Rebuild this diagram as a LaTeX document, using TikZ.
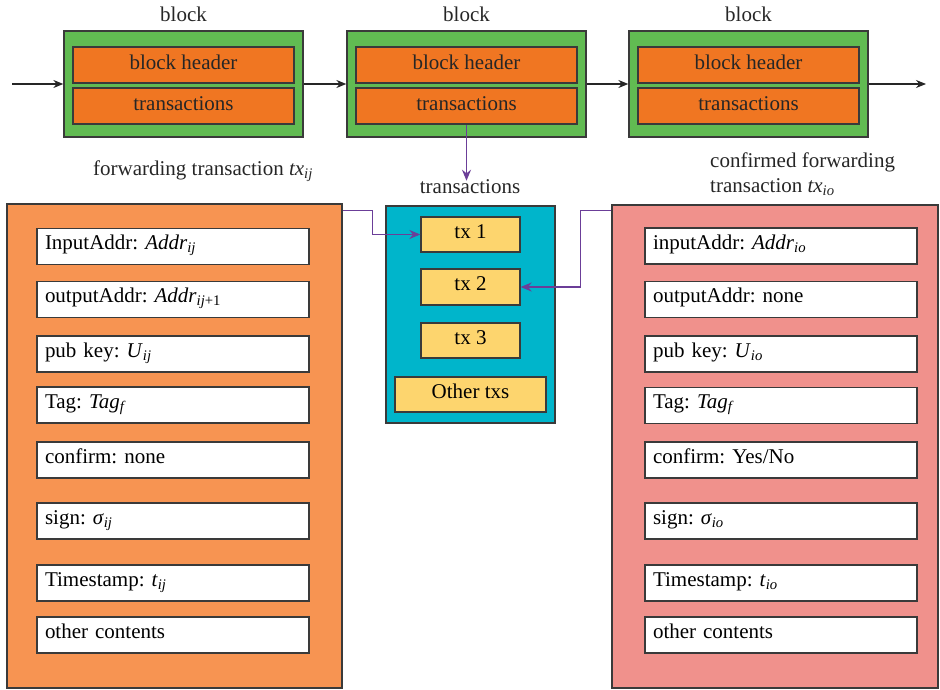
\documentclass[tikz,border=0pt]{standalone}
\usepackage{fontspec}
\setmainfont{Liberation Serif}
\usetikzlibrary{arrows.meta}
\definecolor{edge}{HTML}{3A3A3A}
\definecolor{bgreen}{HTML}{61BB52}
\definecolor{iorange}{HTML}{F07622}
\definecolor{cyanbox}{HTML}{00B5CB}
\definecolor{ytx}{HTML}{FDD56E}
\definecolor{lpanel}{HTML}{F79452}
\definecolor{rpanel}{HTML}{F0918C}
\definecolor{purp}{HTML}{6B3E98}
\newcommand{\sbi}[1]{\textsubscript{\itshape #1}}
\tikzset{
  blockbox/.style={draw=edge, fill=bgreen, line width=1.3pt, minimum width=239pt, minimum height=106pt, inner sep=0pt},
  innerbox/.style={draw=edge, fill=iorange, line width=1.3pt, minimum width=221pt, minimum height=36pt, inner sep=0pt, text height=14pt, text depth=5.5pt, text=black!85},
  txbox/.style={draw=edge, fill=ytx, line width=1.3pt, minimum height=35pt, inner sep=0pt, text height=13pt, text depth=6pt},
  itembox/.style={draw=edge, fill=white, line width=1.3pt, minimum height=36pt, text width=256pt, inner xsep=8pt, inner ysep=0pt, text height=12pt, text depth=6pt, align=left},
  panel/.style={draw=edge, line width=1.3pt, inner sep=0pt},
  blkarrow/.style={draw=black!85, line width=1.2pt, -{Stealth[length=10pt,width=8pt]}},
  parrow/.style={draw=purp, line width=1.5pt, -{Stealth[length=11pt,width=9pt]}},
  lbl/.style={inner sep=0pt, text=black!85}
}
\begin{document}
\frenchspacing
\begin{tikzpicture}[x=1pt,y=-1pt,font=\fontsize{21}{25}\selectfont]
\useasboundingbox (0,0) rectangle (940,690);
% top blocks
\node[blockbox] (b1) at (183.5,84) {};
\node[blockbox] (b2) at (466.5,84) {};
\node[blockbox] (b3) at (748.5,84) {};
\node[innerbox] (h1) at (183.5,65) {block header};
\node[innerbox] (t1) at (183.5,106) {transactions};
\node[innerbox] (h2) at (466.5,65) {block header};
\node[innerbox] (t2) at (466.5,106) {transactions};
\node[innerbox] (h3) at (748.5,65) {block header};
\node[innerbox] (t3) at (748.5,106) {transactions};
\node[lbl] (bl1) at (183.5,14) {block};
\node[lbl] (bl2) at (466.5,14) {block};
\node[lbl] (bl3) at (748.5,14) {block};
\coordinate (cin) at (12,84);
\coordinate (cout) at (926,84);
\draw[blkarrow] (cin) -- (b1.west);
\draw[blkarrow] (b1.east) -- (b2.west);
\draw[blkarrow] (b2.east) -- (b3.west);
\draw[blkarrow] (b3.east) -- (cout);
% transactions pool
\node[lbl] (txl) at (470,187) {transactions};
\draw[parrow] (t2.south) -- ([yshift=-1pt]txl.north -| t2.south);
\node[panel, fill=cyanbox, minimum width=169pt, minimum height=217pt] (pool) at (470.5,314.5) {};
\node[txbox, minimum width=99pt] (tx1) at (470.5,234.5) {tx 1};
\node[txbox, minimum width=99pt, minimum height=36pt] (tx2) at (470.5,287) {tx 2};
\node[txbox, minimum width=99pt] (tx3) at (470.5,340.5) {tx 3};
\node[txbox, minimum width=151pt] (txo) at (470.5,394.5) {Other txs};
% left panel
\node[lbl] (lt) at (203,171) {forwarding transaction \textit{tx}\sbi{ij}};
\node[panel, fill=lpanel, minimum width=335pt, minimum height=484pt] (lp) at (174.5,446) {};
\node[itembox] (l1) at (173,246.5) {InputAddr: \textit{Addr}\sbi{ij}};
\node[itembox] (l2) at (173,299.5) {outputAddr: \textit{Addr}\textsubscript{\itshape ij\upshape+1}};
\node[itembox] (l3) at (173,354) {pub key: \textit{U}\sbi{ij}};
\node[itembox] (l4) at (173,405) {Tag: \textit{Tag}\sbi{f}};
\node[itembox] (l5) at (173,460) {confirm: none};
\node[itembox] (l6) at (173,521) {sign: \textit{σ}\sbi{ij}};
\node[itembox] (l7) at (173,583) {Timestamp: \textit{t}\sbi{ij}};
\node[itembox] (l8) at (173,635) {other contents};
% right panel
\node[lbl, align=left, anchor=west] (rt) at (710,174) {confirmed forwarding\\transaction \textit{tx}\sbi{io}};
\node[panel, fill=rpanel, minimum width=326pt, minimum height=483pt] (rp) at (775,446.5) {};
\node[itembox] (r1) at (781,246) {inputAddr: \textit{Addr}\sbi{io}};
\node[itembox] (r2) at (781,299.5) {outputAddr: none};
\node[itembox] (r3) at (781,354) {pub key: \textit{U}\sbi{io}};
\node[itembox] (r4) at (781,405.5) {Tag: \textit{Tag}\sbi{f}};
\node[itembox] (r5) at (781,460) {confirm: Yes/No};
\node[itembox] (r6) at (781,521) {sign: \textit{σ}\sbi{io}};
\node[itembox] (r7) at (781,583) {Timestamp: \textit{t}\sbi{io}};
\node[itembox] (r8) at (781,635) {other contents};
% purple connectors
\draw[parrow] ([yshift=-7pt]lp.north east) -- ++(30,0) |- (tx1.west);
\draw[parrow] ([yshift=-6pt]rp.north west) -- ++(-31,0) |- (tx2.east);
\end{tikzpicture}
\end{document}
